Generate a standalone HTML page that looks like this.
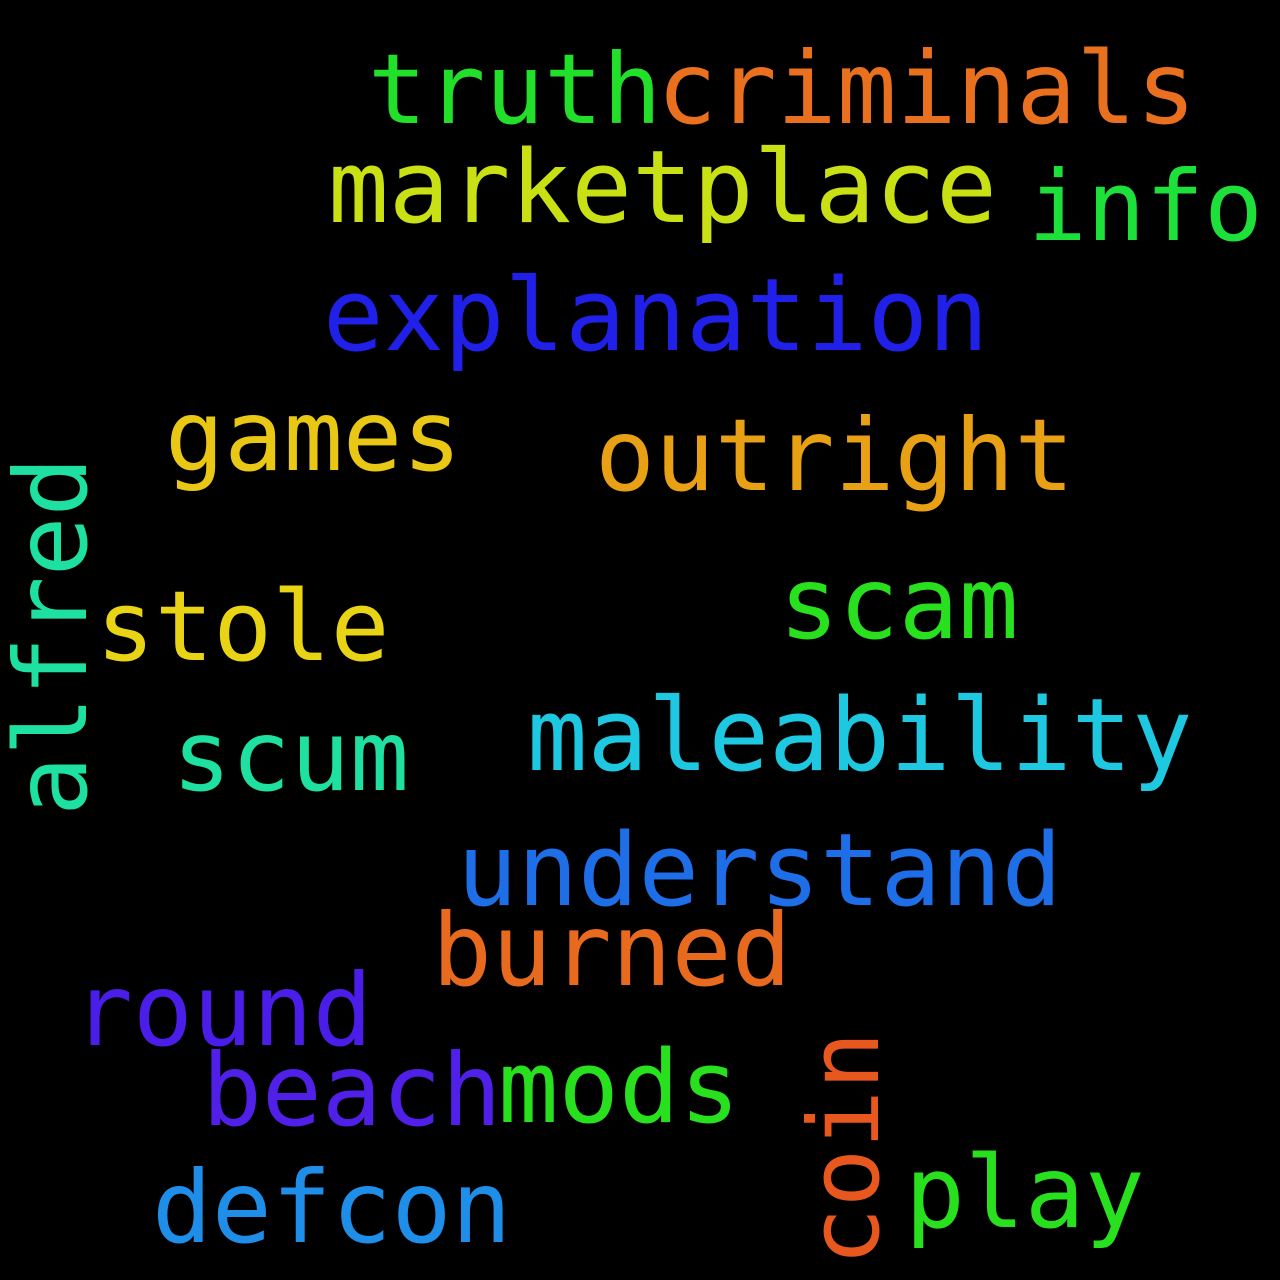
<!DOCTYPE html>
<html><head><meta charset="utf-8"><style>
html,body{margin:0;padding:0;background:#000;}
svg{display:block;}
text{font-family:"DejaVu Sans Mono","Liberation Mono",monospace;}
</style></head><body>
<svg width="1280" height="1280" viewBox="0 0 1280 1280">
<rect width="1280" height="1280" fill="#000"/>
<text x="368" y="123" font-size="97.5" fill="#22e02a">truth</text>
<text x="657" y="123" font-size="99.5" fill="#e8701e">criminals</text>
<text x="328" y="222" font-size="101" fill="#c8e014">marketplace</text>
<text x="1028" y="240" font-size="97.5" fill="#1ee03a">info</text>
<text x="323" y="350" font-size="100.5" fill="#2020e8">explanation</text>
<text x="165" y="470" font-size="98.5" fill="#e8c814">games</text>
<text x="595" y="490" font-size="99.5" fill="#e8a014">outright</text>
<text x="779" y="638" font-size="99.5" fill="#28e01e">scam</text>
<text x="96" y="660" font-size="97.5" fill="#e8d414">stole</text>
<text transform="translate(86,816) rotate(-90)" font-size="99.5" fill="#1ee0a0">alfred</text>
<text x="172" y="790" font-size="98.5" fill="#1ee0a0">scum</text>
<text x="527" y="770" font-size="100.5" fill="#1ec8e0">maleability</text>
<text x="457" y="905" font-size="100.5" fill="#1e6ee8">understand</text>
<text x="432" y="985" font-size="99.5" fill="#e86a1e">burned</text>
<text x="73" y="1045" font-size="99.5" fill="#4a1ee8">round</text>
<text x="202" y="1125" font-size="99.5" fill="#5020e8">beach</text>
<text x="498" y="1122" font-size="100.5" fill="#28e01e">mods</text>
<text transform="translate(878,1266) rotate(-90)" font-size="97.5" fill="#e8581e">coin</text>
<text x="905" y="1227" font-size="99.5" fill="#28e01e">play</text>
<text x="152" y="1242" font-size="99.5" fill="#1e8ee8">defcon</text>
</svg>
</body></html>
